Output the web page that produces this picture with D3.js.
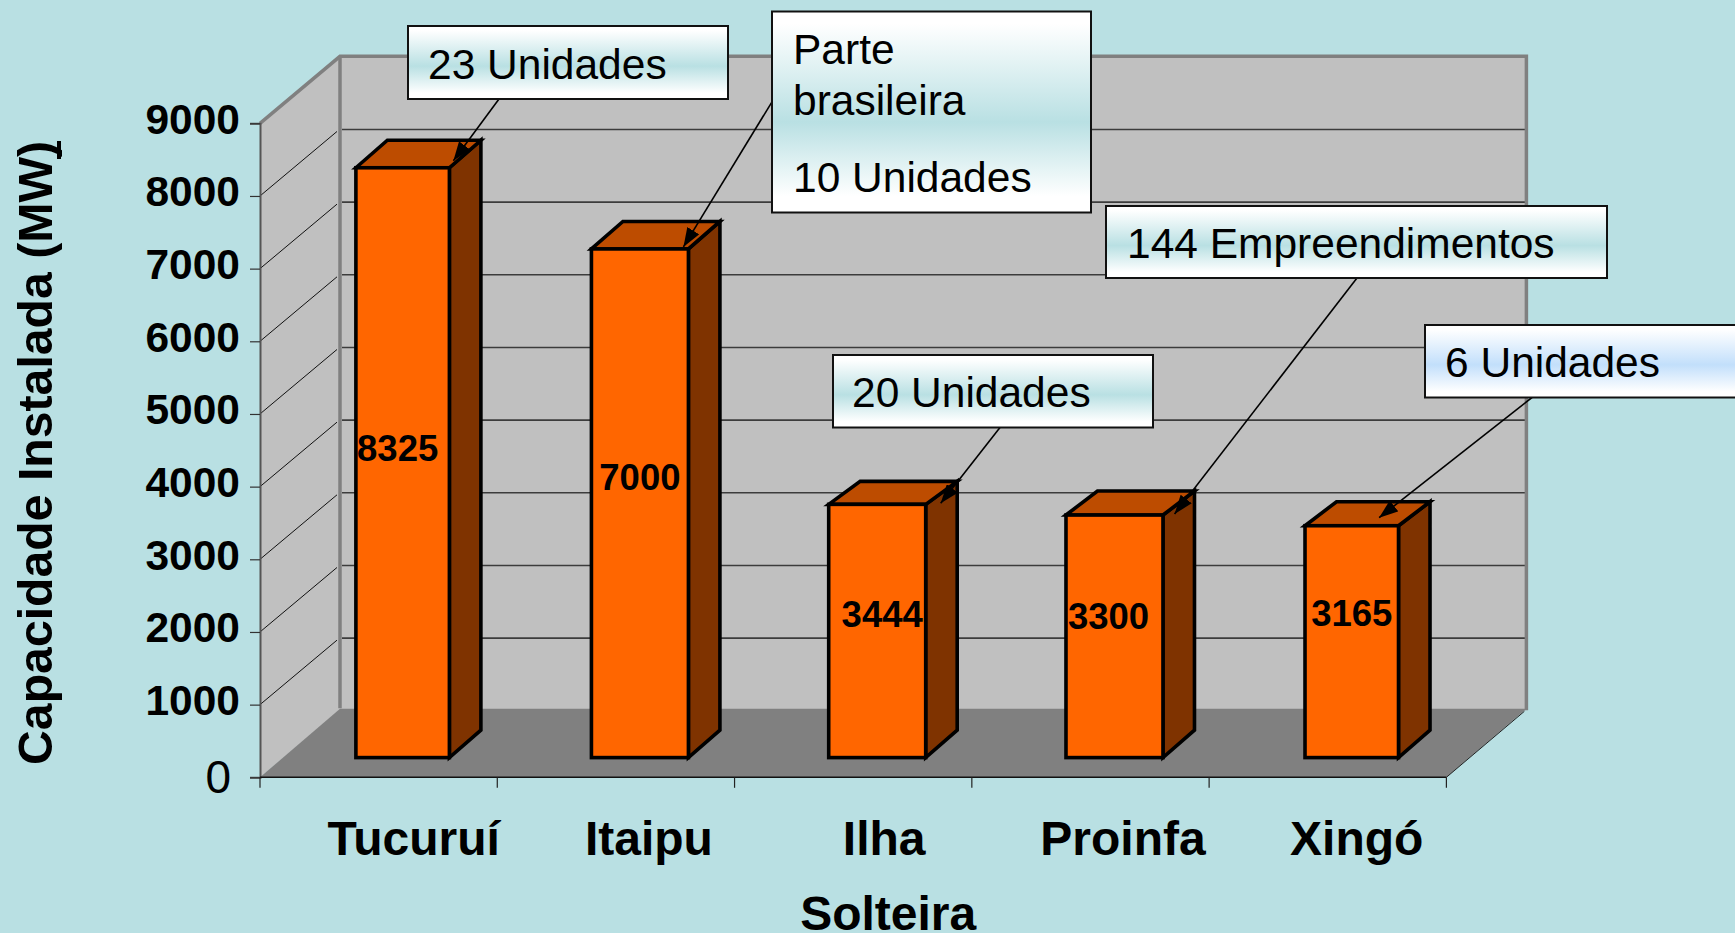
<!DOCTYPE html>
<html>
<head>
<meta charset="utf-8">
<script src="https://cdn.jsdelivr.net/npm/d3@7/dist/d3.min.js"></script>
<style>
html,body{margin:0;padding:0;background:#b9e0e3;overflow:hidden}
svg{display:block}
text{font-family:"Liberation Sans",Arial,sans-serif;fill:#000}
</style>
</head>
<body>
<svg id="chart" width="1735" height="933"></svg>
<script>
// ---- data ----
const categories = ["Tucuruí", "Itaipu", "Ilha", "Proinfa", "Xingó"];
const categoryLines = [["Tucuruí"], ["Itaipu"], ["Ilha", "Solteira"], ["Proinfa"], ["Xingó"]];
// Height of the drawn columns, read against the axis
const barValues = [8117, 7000, 3485, 3338, 3191];
// Numbers printed on the columns (the Tucuruí column is drawn lower than its printed number)
const printedValues = ["8325", "7000", "3444", "3300", "3165"];
const yTicks = [0, 1000, 2000, 3000, 4000, 5000, 6000, 7000, 8000, 9000];
const yTitle = "Capacidade Instalada (MW)";
const calloutLines = [
  ["23 Unidades"],
  ["Parte", "brasileira", "10 Unidades"],
  ["20 Unidades"],
  ["144 Empreendimentos"],
  ["6 Unidades"]
];

// ---- layout ----
const W = 1735, H = 933;
const plot = {x0: 260, x1: 1446.4, y0: 777.3, y9: 123.3};
const wallDx = 80, wallDy = -67;          // floor depth
const barFloorDx = 24, barFloorDy = -19.7; // bars stand this far into the floor
const barWidths = [93.5, 97, 97, 97, 93.5];
const barDx = 31.5, barDy = -27.5;
const barTopDy = [-27.5, -27.5, -23, -24, -24];
const printedOffset = [[-5, -15], [0, -26], [5, -17], [-6, -20], [0, -29]];
const categoryNudge = [35, 33, 31, 32.5, 29];
const calloutBox = [
  {x: 408,  y: 26,  w: 320, h: 73,  tx: 428,  base: [79]},
  {x: 772,  y: 11.5,w: 319, h: 201, tx: 793,  base: [63.5, 115, 192]},
  {x: 833,  y: 355, w: 320, h: 72.5,tx: 852,  base: [407]},
  {x: 1106, y: 206, w: 501, h: 72,  tx: 1127, base: [258]},
  {x: 1425, y: 325, w: 340, h: 72.5,tx: 1445, base: [377]}
];
// start of the leader on the box, and tip relative to the column's front top-right corner
const leader = [
  {sx: 499,  sy: 99,    tipDx: 4,   tipDy: -7},
  {sx: 772,  sy: 101.8, tipDx: -5,  tipDy: -2},
  {sx: 1000, sy: 427.5, tipDx: 15,  tipDy: -1},
  {sx: 1357, sy: 278,   tipDx: 11.6,tipDy: -1},
  {sx: 1532, sy: 397.5, tipDx: -19.4,tipDy: -8}
];
const col = {bg:"#b9e0e3", wall:"#c0c0c0", floor:"#808080", wallEdge:"#808080",
             front:"#ff6600", top:"#bd4c00", side:"#7f3300"};

const svg = d3.select("#chart");
const x = d3.scaleBand().domain(categories).range([plot.x0, plot.x1]);
const y = d3.scaleLinear().domain([0, 9000]).range([plot.y0, plot.y9]);
const poly = pts => "M" + pts.map(p => p.join(",")).join("L") + "Z";

svg.append("rect").attr("width", W).attr("height", H).attr("fill", col.bg);

// defs: arrow head, callout gradients
const defs = svg.append("defs");
defs.append("marker").attr("id","arrow").attr("viewBox","0 0 10 10").attr("refX",10).attr("refY",5)
  .attr("markerUnits","userSpaceOnUse").attr("markerWidth",19).attr("markerHeight",14)
  .attr("orient","auto").attr("preserveAspectRatio","none")
  .append("path").attr("d","M0,0L10,5L0,10Z").attr("fill","#000");
function gradient(id, mid){
  const g = defs.append("linearGradient").attr("id",id).attr("x1",0).attr("x2",0).attr("y1",0).attr("y2",1);
  [[0,0],[0.06,0],[0.55,1],[0.92,0],[1,0]].forEach(o => g.append("stop").attr("offset",o[0]).attr("stop-color",o[1] ? mid : "#fff"));
}
gradient("gTeal","#b9e0e3");
gradient("gBlue","#c2dffb");

// walls and floor
const xL = plot.x0, xR = plot.x1, y0 = plot.y0, yT = plot.y9;
svg.append("path").attr("d", poly([[xL,yT],[xL+wallDx,yT+wallDy],[xL+wallDx,y0+wallDy],[xL,y0]])).attr("fill",col.wall);
svg.append("rect").attr("x",xL+wallDx).attr("y",yT+wallDy).attr("width",xR-xL).attr("height",y0-yT).attr("fill",col.wall);
svg.append("path").attr("d", poly([[xL,y0],[xL+wallDx,y0+wallDy-1.5],[xR+wallDx,y0+wallDy-1.5],[xR,y0]])).attr("fill",col.floor);

// grid lines on both walls
const grid = svg.append("g");
yTicks.filter(v => v > 0 && v < 9000).forEach(v => {
  grid.append("line").attr("x1",xL).attr("y1",y(v)).attr("x2",xL+wallDx-3).attr("y2",y(v)+wallDy*(wallDx-3)/wallDx)
    .attr("stroke","#111").attr("stroke-width",1);
  grid.append("line").attr("x1",xL+wallDx+2).attr("y1",y(v)+wallDy+0.5).attr("x2",xR+wallDx).attr("y2",y(v)+wallDy+0.5)
    .attr("stroke","#3c3c3c").attr("stroke-width",1.6);
});
// wall edges
svg.append("path").attr("fill","none").attr("stroke",col.wallEdge).attr("stroke-width",3.5)
  .attr("d",`M${xL},${yT}L${xL+wallDx},${yT+wallDy}L${xR+wallDx},${yT+wallDy}L${xR+wallDx},${y0+wallDy}`);
svg.append("line").attr("x1",xL+wallDx).attr("x2",xL+wallDx).attr("y1",yT+wallDy).attr("y2",y0+wallDy-2)
  .attr("stroke",col.wallEdge).attr("stroke-width",3.5);
svg.append("line").attr("x1",xR).attr("y1",y0).attr("x2",xR+wallDx-2).attr("y2",y0+wallDy+1)
  .attr("stroke","#222").attr("stroke-width",1);

// axes
const yAxis = d3.axisLeft(y).tickValues(yTicks).tickSize(10).tickPadding(10).tickFormat(d3.format("d"));
const yG = svg.append("g").attr("transform",`translate(${xL},0)`).call(yAxis);
yG.select(".domain").attr("stroke","#555").attr("stroke-width",2);
yG.selectAll(".tick line").attr("stroke","#333").attr("stroke-width",1.2);
yG.selectAll(".tick text").style("font-family",'"Liberation Sans",Arial,sans-serif')
  .attr("font-size",42.5).attr("font-weight","bold").attr("dy","0.23em").attr("fill","#000");
yG.selectAll(".tick").filter(v => v === 0).select("text")
  .attr("font-size",46).attr("font-weight","normal").attr("dy","0.34em").attr("x",-29);

const tickXs = categories.map(c => x(c)).concat([xR]);
const xG = svg.append("g");
xG.append("line").attr("x1",xL).attr("x2",xR).attr("y1",y0).attr("y2",y0).attr("stroke","#111").attr("stroke-width",1.6);
xG.selectAll("line.t").data(tickXs).join("line").attr("class","t")
  .attr("x1",d=>d).attr("x2",d=>d).attr("y1",y0).attr("y2",y0+10.5).attr("stroke","#222").attr("stroke-width",1.2);

// bars
const barCx = c => x(c) + x.bandwidth()/2 + barFloorDx;
const barY = v => y(v) + barFloorDy;
const barBase = y(0) + barFloorDy;
const bars = svg.append("g").attr("stroke","#000").attr("stroke-width",3.6).attr("stroke-linejoin","miter");
categories.forEach((c,i) => {
  const l = barCx(c) - barWidths[i]/2, r = l + barWidths[i], t = barY(barValues[i]), td = barTopDy[i];
  bars.append("path").attr("fill",col.side).attr("d",poly([[r,t],[r+barDx,t+td],[r+barDx,barBase+barDy],[r,barBase]]));
  bars.append("path").attr("fill",col.top).attr("d",poly([[l,t],[l+barDx,t+td],[r+barDx,t+td],[r,t]]));
  bars.append("rect").attr("fill",col.front).attr("x",l).attr("y",t).attr("width",barWidths[i]).attr("height",barBase-t);
});

// printed values
categories.forEach((c,i) => {
  const cx = barCx(c), cy = (barY(barValues[i]) + barBase)/2;
  svg.append("text").attr("x",cx+printedOffset[i][0]).attr("y",cy+printedOffset[i][1]).attr("dy","0.36em")
    .attr("text-anchor","middle").attr("font-size",36.5).attr("font-weight","bold").text(printedValues[i]);
});

// category labels
categories.forEach((c,i) => {
  const cx = x(c) + x.bandwidth()/2 + categoryNudge[i];
  categoryLines[i].forEach((t,j) => {
    svg.append("text").attr("x",cx + (j?4:0)).attr("y",855 + j*74.5).attr("text-anchor","middle")
      .attr("font-size",48).attr("font-weight","bold").text(t);
  });
});

// y title
svg.append("text").attr("transform","translate(52,453) rotate(-90)").attr("text-anchor","middle")
  .attr("font-size",48.2).attr("font-weight","bold").text(yTitle);
svg.append("line").attr("x1",59).attr("x2",59).attr("y1",141).attr("y2",159).attr("stroke","#000").attr("stroke-width",4);

// callouts: leaders first, then boxes
categories.forEach((c,i) => {
  const tipX = barCx(c) + barWidths[i]/2 + leader[i].tipDx, tipY = barY(barValues[i]) + leader[i].tipDy;
  svg.append("line").attr("x1",leader[i].sx).attr("y1",leader[i].sy).attr("x2",tipX).attr("y2",tipY)
    .attr("stroke","#000").attr("stroke-width",1.6).attr("marker-end","url(#arrow)");
});
calloutLines.forEach((lines,i) => {
  const b = calloutBox[i];
  svg.append("rect").attr("x",b.x).attr("y",b.y).attr("width",b.w).attr("height",b.h)
    .attr("fill", i === 4 ? "url(#gBlue)" : "url(#gTeal)").attr("stroke","#111").attr("stroke-width",2);
  lines.forEach((t,j) => svg.append("text").attr("x",b.tx).attr("y",b.base[j]).attr("font-size",42.5).text(t));
});
</script>
</body>
</html>
